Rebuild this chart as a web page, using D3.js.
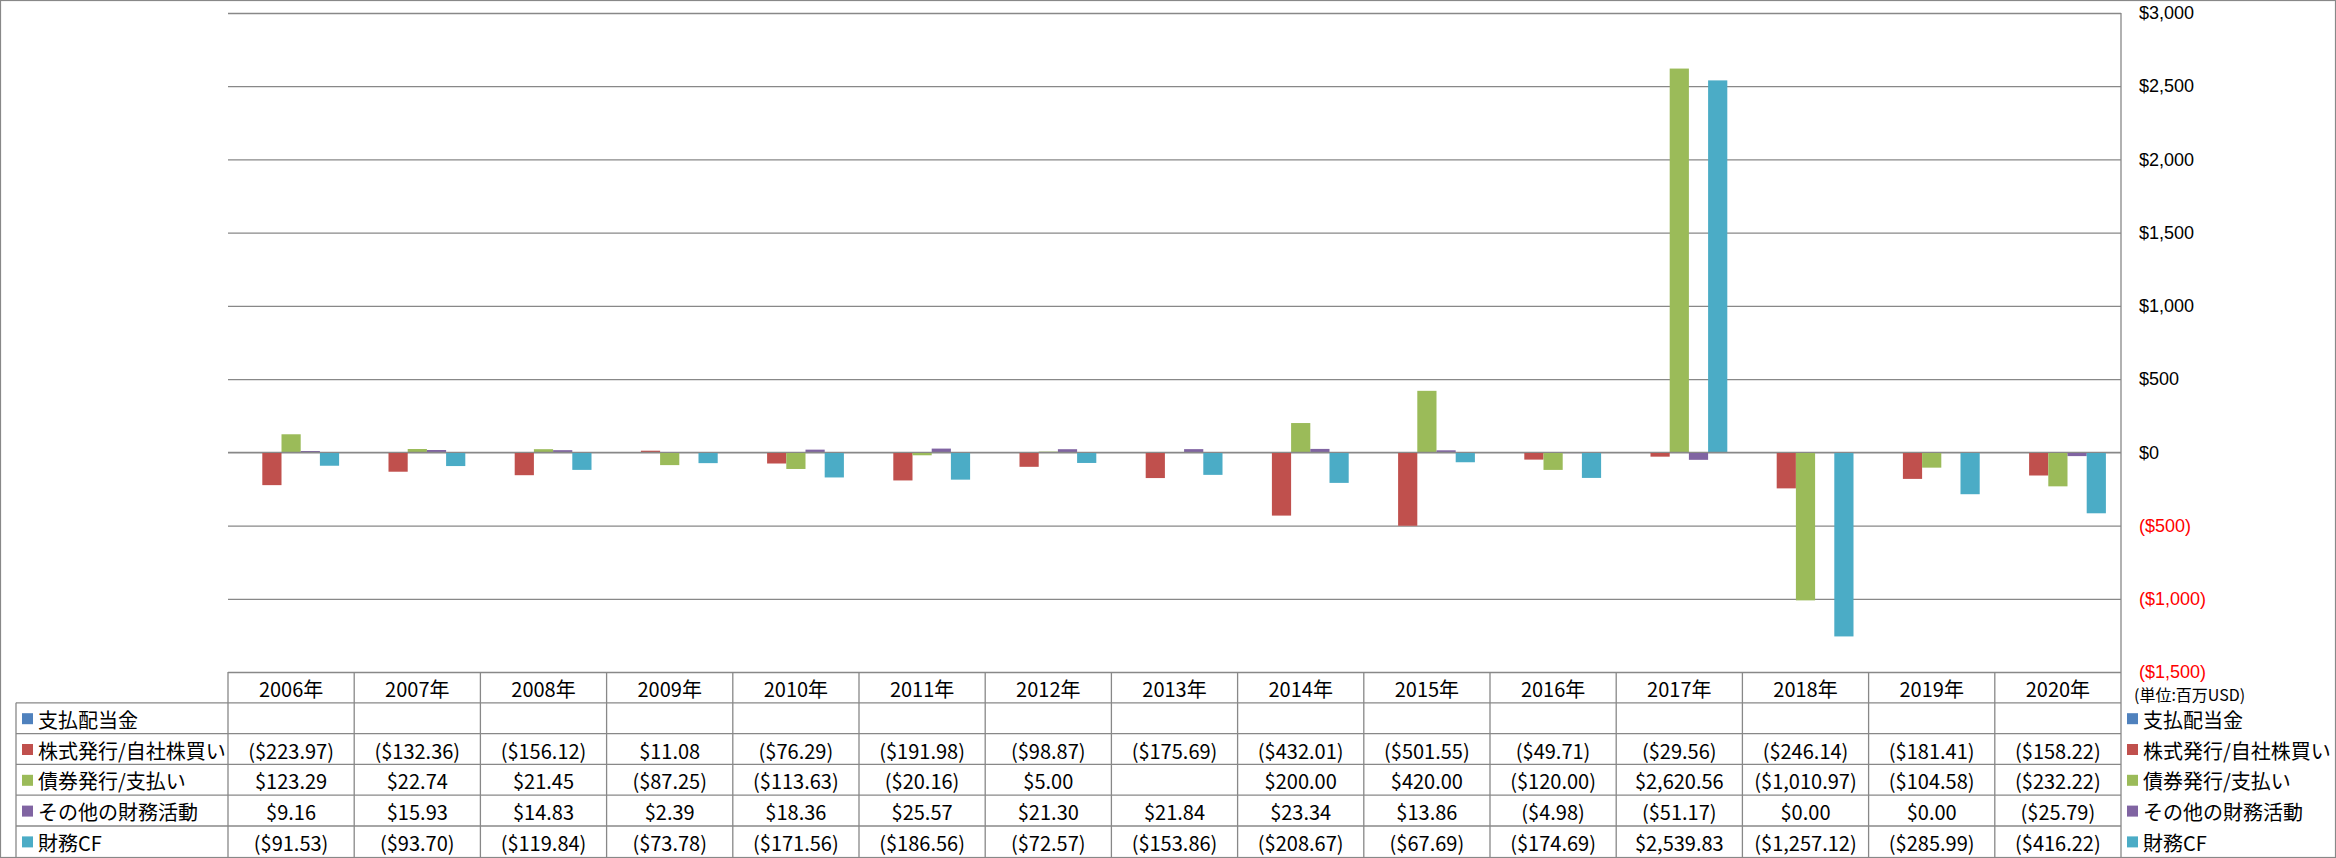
<!DOCTYPE html>
<html><head><meta charset="utf-8">
<script src="https://cdn.jsdelivr.net/npm/d3@7"></script>
<style>
html,body{margin:0;padding:0;background:#fff;}
svg{display:block;}
</style></head>
<body>
<script>
const categories = ["2006年","2007年","2008年","2009年","2010年","2011年","2012年","2013年","2014年","2015年","2016年","2017年","2018年","2019年","2020年"];
const seriesNames = ["支払配当金","株式発行/自社株買い","債券発行/支払い","その他の財務活動","財務CF"];
const seriesColors = ["#4F81BD","#C0504D","#9BBB59","#8064A2","#4BACC6"];
const dividends = [null,null,null,null,null,null,null,null,null,null,null,null,null,null,null];
const equity = [-223.97,-132.36,-156.12,11.08,-76.29,-191.98,-98.87,-175.69,-432.01,-501.55,-49.71,-29.56,-246.14,-181.41,-158.22];
const debt = [123.29,22.74,21.45,-87.25,-113.63,-20.16,5.00,null,200.00,420.00,-120.00,2620.56,-1010.97,-104.58,-232.22];
const other = [9.16,15.93,14.83,2.39,18.36,25.57,21.30,21.84,23.34,13.86,-4.98,-51.17,0.00,0.00,-25.79];
const financingCF = [-91.53,-93.70,-119.84,-73.78,-171.56,-186.56,-72.57,-153.86,-208.67,-67.69,-174.69,2539.83,-1257.12,-285.99,-416.22];
const yTicks = [3000,2500,2000,1500,1000,500,0,-500,-1000,-1500];
const unitLabel = "(単位:百万USD)";

const series = [dividends, equity, debt, other, financingCF];

const W = 2336, H = 858;
const plotL = 228, plotR = 2121, plotT = 13, plotB = 672;
const rowH = 30.8;
const tableTop = plotB;
const labelL = 16;
const gridColor = "#888888";
const tableFont = "'Liberation Sans Narrow','Noto Sans CJK JP',sans-serif";
const axisFont = "'Liberation Sans','Noto Sans CJK JP',sans-serif";

const svg = d3.select("body").append("svg").attr("width", W).attr("height", H);

const x0 = d3.scaleBand().domain(categories).range([plotL, plotR]).paddingInner(0).paddingOuter(0);
const gap = x0.bandwidth() - 5 * 19.2;
const x1 = d3.scaleBand().domain(d3.range(series.length)).range([gap/2, x0.bandwidth() - gap/2]).padding(0);
const y = d3.scaleLinear().domain([-1500, 3000]).range([plotB, plotT]);

const money = v => {
  const s = d3.format(",.2f")(Math.abs(v));
  return v < 0 ? "($" + s + ")" : "$" + s;
};
const tickMoney = v => {
  const s = d3.format(",")(Math.abs(v));
  return v < 0 ? "($" + s + ")" : "$" + s;
};

// outer border
svg.append("rect").attr("x",0.5).attr("y",0.5).attr("width",W-1).attr("height",H-1)
  .attr("fill","none").attr("stroke",gridColor).attr("stroke-width",1.2);

// gridlines + right axis labels
const axis = d3.axisRight(y).tickValues(yTicks).tickSizeInner(-(plotR-plotL)).tickSizeOuter(0)
  .tickPadding(18).tickFormat(tickMoney);
const gAxis = svg.append("g").attr("transform", `translate(${plotR},0)`).call(axis);
gAxis.select(".domain").remove();
gAxis.selectAll(".tick line").attr("stroke", gridColor).attr("stroke-width", 1.3);
gAxis.selectAll(".tick text").attr("font-family", axisFont).attr("font-size", 18)
  .attr("fill", d => d < 0 ? "#FF0000" : "#000000");

// right vertical line
svg.append("line").attr("x1",plotR).attr("x2",plotR).attr("y1",plotT).attr("y2",H)
  .attr("stroke",gridColor).attr("stroke-width",1.3);

// bars
series.forEach((vals, si) => {
  svg.append("g").selectAll("rect")
    .data(vals.map((v,i)=>({v, c: categories[i]})).filter(d => d.v !== null))
    .join("rect")
    .attr("x", d => x0(d.c) + x1(si))
    .attr("width", x1.bandwidth())
    .attr("y", d => y(Math.max(0, d.v)))
    .attr("height", d => Math.abs(y(d.v) - y(0)))
    .attr("fill", seriesColors[si]);
});

// zero line on top
svg.append("line").attr("x1",plotL).attr("x2",plotR).attr("y1",y(0)).attr("y2",y(0))
  .attr("stroke",gridColor).attr("stroke-width",1.3);

// unit label
svg.append("text").attr("x", 2134).attr("y", 694).attr("dominant-baseline","central")
  .attr("font-family","'Noto Sans CJK JP',sans-serif").attr("font-size",16)
  .attr("fill","#000").text(unitLabel);

// table
const gT = svg.append("g");
categories.forEach((c,i) => {
  gT.append("line").attr("x1", x0(c)).attr("x2", x0(c)).attr("y1", tableTop).attr("y2", H)
    .attr("stroke", gridColor).attr("stroke-width",1.3);
});
for (let r = 1; r <= 5; r++) {
  const yy = tableTop + r * rowH;
  gT.append("line").attr("x1", labelL).attr("x2", plotR).attr("y1", yy).attr("y2", yy)
    .attr("stroke", gridColor).attr("stroke-width",1.3);
}
gT.append("line").attr("x1", labelL).attr("x2", labelL).attr("y1", tableTop + rowH).attr("y2", H)
  .attr("stroke", gridColor).attr("stroke-width",1.3);

// header text
gT.selectAll("text.hdr").data(categories).join("text").attr("class","hdr")
  .attr("x", d => x0(d) + x0.bandwidth()/2).attr("y", tableTop + rowH/2 + 1)
  .attr("text-anchor","middle").attr("dominant-baseline","central")
  .attr("font-family", tableFont).attr("font-size", 20).attr("fill","#000").text(d => d);

// rows
series.forEach((vals, si) => {
  const cy = tableTop + rowH*(si+1) + rowH/2 + 1;
  gT.append("rect").attr("x", 22).attr("y", cy - 6).attr("width", 11).attr("height", 11).attr("fill", seriesColors[si]);
  gT.append("text").attr("x", 38).attr("y", cy).attr("dominant-baseline","central")
    .attr("font-family", tableFont).attr("font-size", 20).attr("fill","#000").text(seriesNames[si]);
  gT.append("g").selectAll("text")
    .data(vals.map((v,i)=>({v, c: categories[i]})).filter(d => d.v !== null))
    .join("text")
    .attr("x", d => x0(d.c) + x0.bandwidth()/2).attr("y", cy)
    .attr("text-anchor","middle").attr("dominant-baseline","central")
    .attr("font-family", tableFont).attr("font-size", 20).attr("fill","#000")
    .text(d => money(d.v));
  gT.append("rect").attr("x", 2127).attr("y", cy - 6).attr("width", 11).attr("height", 11).attr("fill", seriesColors[si]);
  gT.append("text").attr("x", 2143).attr("y", cy).attr("dominant-baseline","central")
    .attr("font-family", tableFont).attr("font-size", 20).attr("fill","#000").text(seriesNames[si]);
});
</script>
</body></html>
